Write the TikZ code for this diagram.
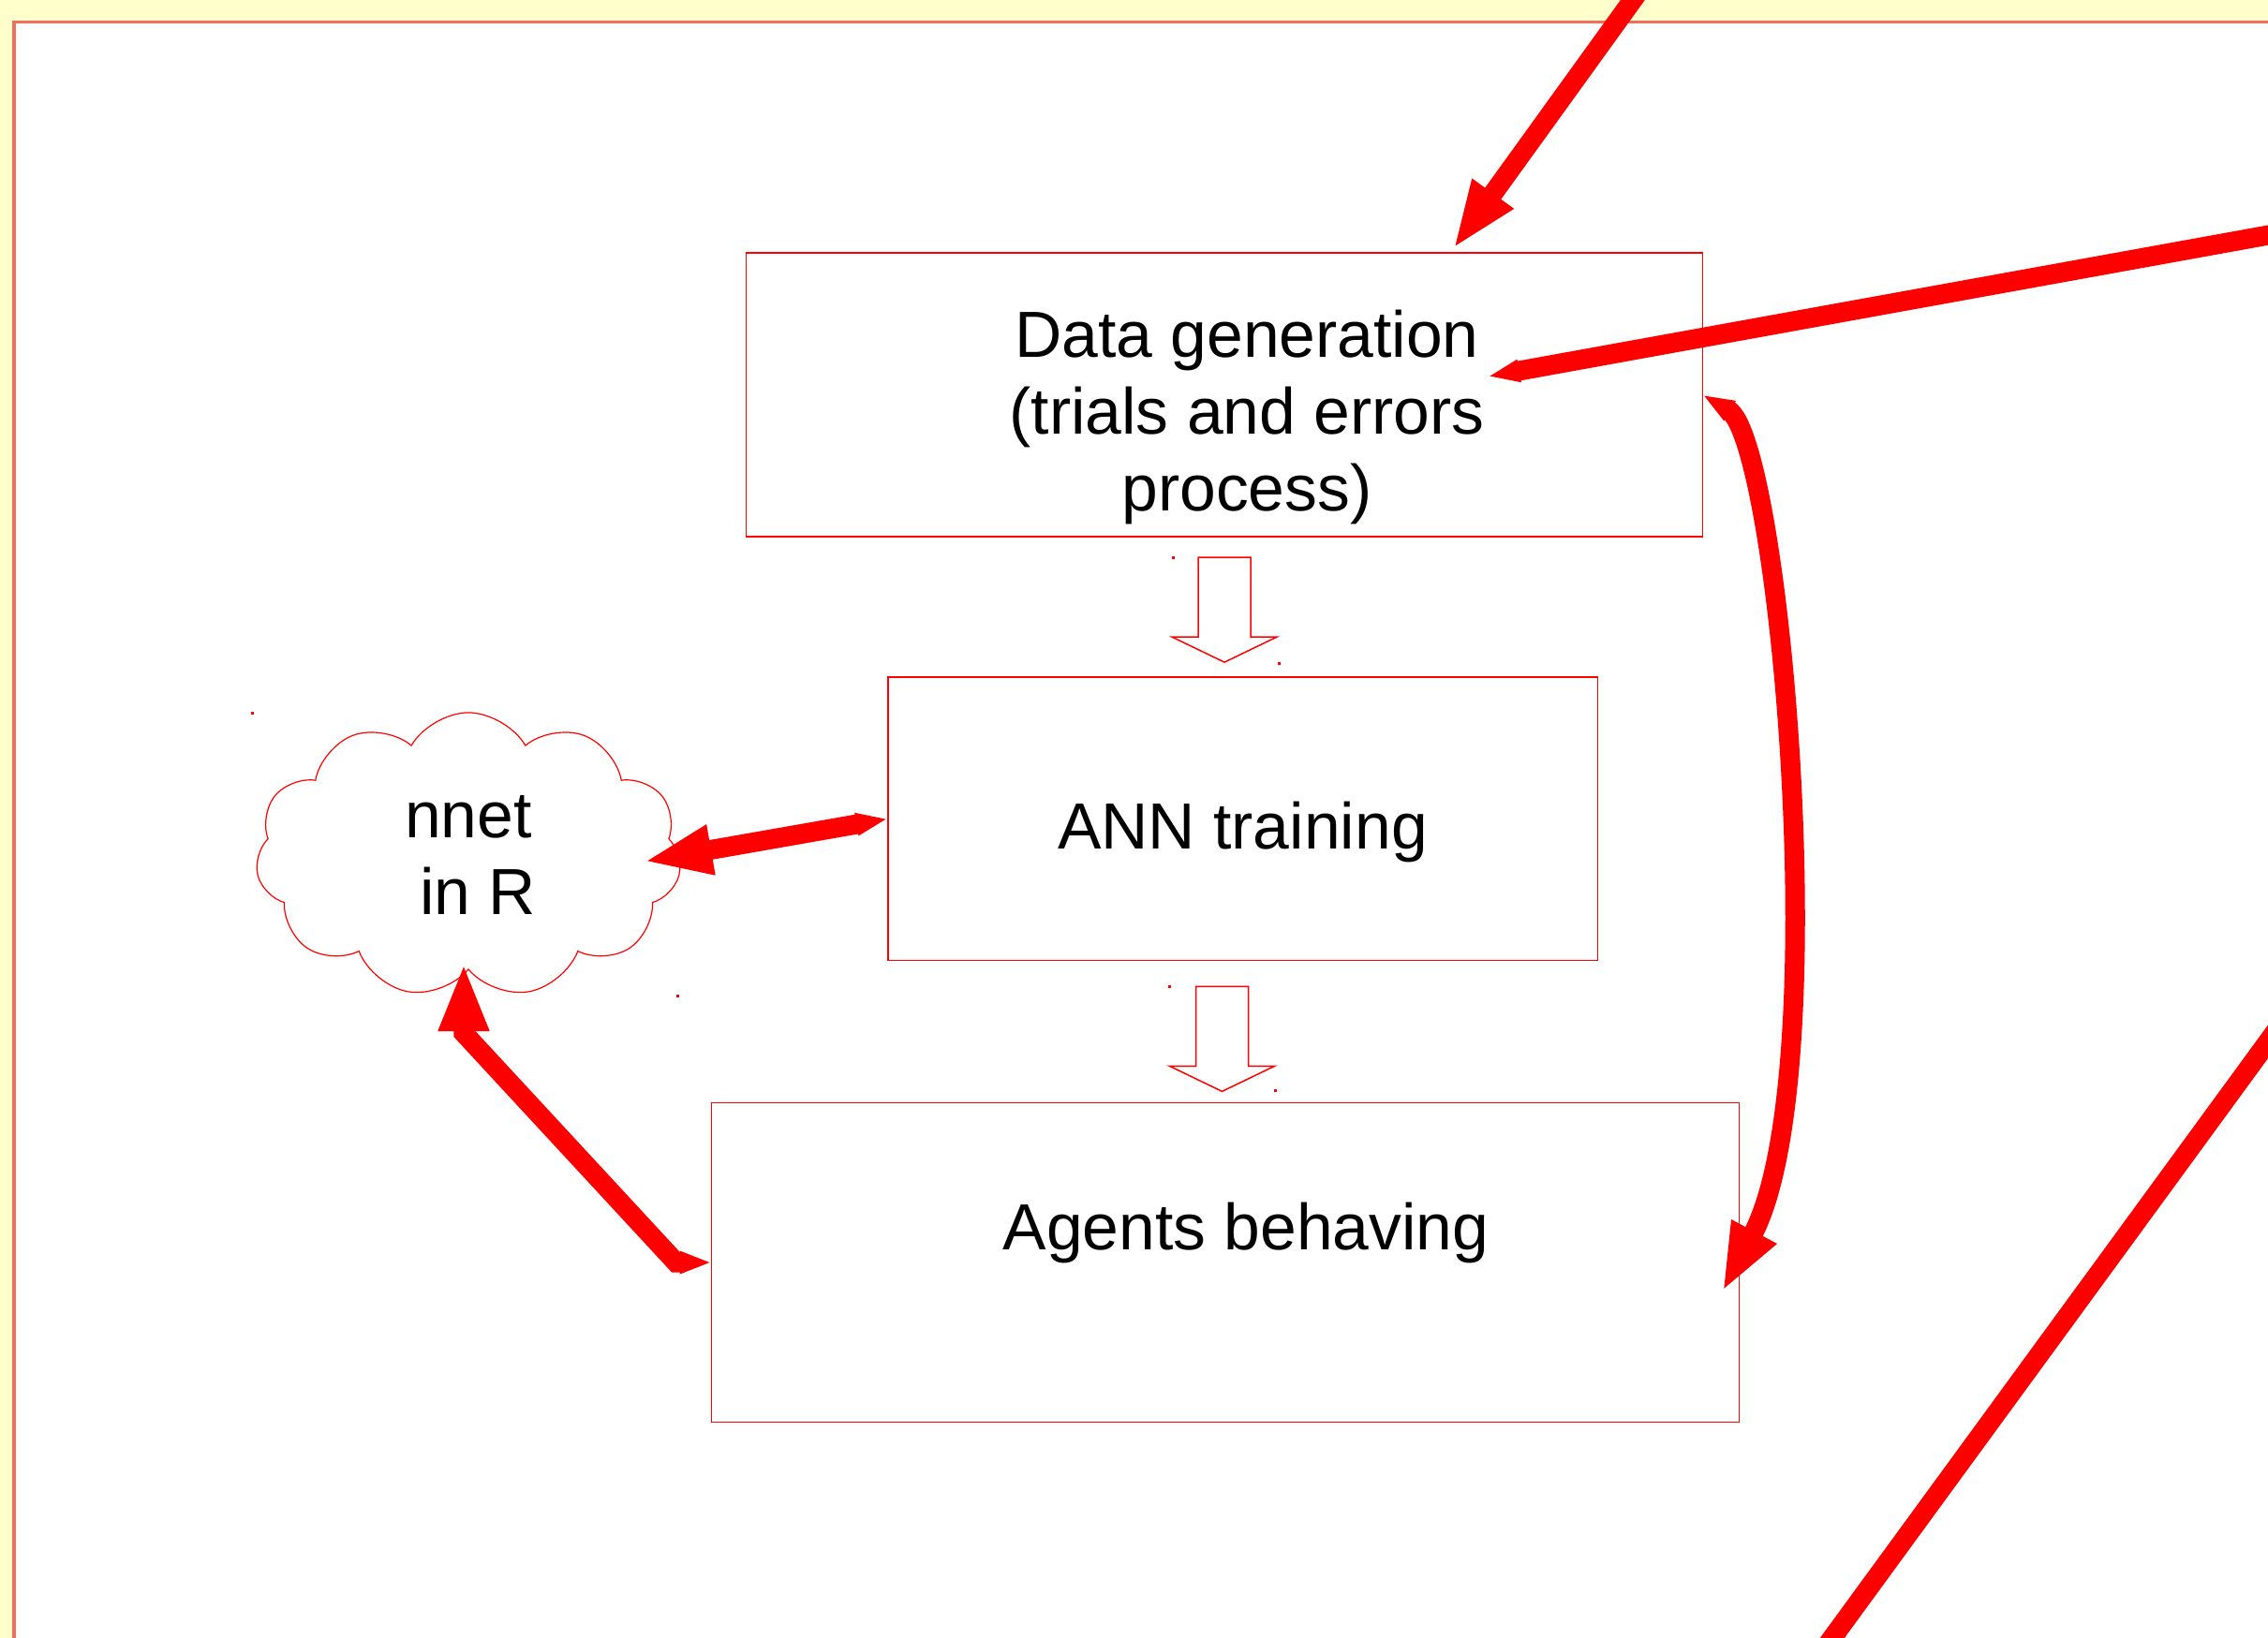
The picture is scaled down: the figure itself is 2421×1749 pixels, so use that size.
\documentclass[tikz,border=0pt]{standalone}
\usepackage{fontspec}
\setmainfont{Liberation Sans}
\usetikzlibrary{arrows.meta, positioning, shapes.symbols}

\definecolor{paper}{RGB}{255,255,204}
\definecolor{frameline}{RGB}{240,110,90}

\tikzset{
    downblock/.pic={
        \draw[hollow] (-28,0) -- (28,0) -- (28,85) -- (56,85) -- (0,112) -- (-56,85) -- (-28,85) -- cycle;
    }
}

\begin{document}
\begin{tikzpicture}[
        x=0.01cm, y=-0.01cm,
        font=\fontsize{19.8}{23.3}\selectfont,
        box/.style={draw=red, line width=0.015cm, inner sep=0pt, outer sep=0pt},
        lbl/.style={align=center, inner sep=0pt},
        hollow/.style={draw=red, line width=0.015cm, fill=white},
        blob/.style={cloud, cloud puffs=11, cloud puff arc=120, aspect=1.5, draw=red, line width=0.012cm,
            minimum width=4.54cm, minimum height=3.04cm, inner sep=0pt, align=center},
        redline/.style={draw=red, line width=0.21cm},
        bighead/.style={-{Triangle[length=0.73cm, width=0.49cm]}},
        smalltip/.style={-{Triangle[length=0.34cm, width=0.22cm]}},
        twotips/.style={{Triangle[length=0.34cm, width=0.22cm]}-{Triangle[length=0.73cm, width=0.49cm]}}
    ]

    % Page: yellow margin, white sheet
    \useasboundingbox (0,0) rectangle (2421,1749);
    \clip (0,0) rectangle (2421,1749);
    \fill[paper] (0,0) rectangle (2421,1749);
    \fill[white] (15,24) rectangle (2421,1749);
    \draw[frameline, line width=0.03cm] (15,1749) -- (15,24) -- (2421,24);

    % Process boxes
    \node[box, minimum width=10.2cm, minimum height=3.03cm] (datagen) at (1307,421.5) {};
    \node[box, minimum width=7.57cm, minimum height=3.02cm, below=1.5cm of datagen, xshift=0.195cm] (ann) {};
    \node[box, minimum width=10.96cm, minimum height=3.41cm, below=1.52cm of ann, xshift=-0.185cm] (agents) {};

    \node[lbl] (datagentext) at ([shift={(24,24)}]datagen.center) {Data generation\\(trials and errors\\process)};
    \node[lbl, anchor=base] (anntext) at ([yshift=-0.32cm]ann.center) {ANN training};
    \node[lbl, anchor=base] (agentstext) at ([shift={(22,-13.5)}]agents.center) {Agents behaving};

    % Hollow arrows between boxes
    \pic at ([yshift=-0.22cm]datagen.south) {downblock};
    \pic at ([shift={(-22,28)}]ann.south) {downblock};

    % Cloud
    \node[blob] (nnet) at (500,913) {nnet\\\hspace*{0.3em}in R};

    % stray corner marks
    \fill[red] (268,760) rectangle ++(3,3);
    \fill[red] (722,1062) rectangle ++(3,3);
    \fill[red] (1251,594) rectangle ++(3,3);
    \fill[red] (1364,707) rectangle ++(3,3);
    \fill[red] (1247,1052) rectangle ++(3,3);
    \fill[red] (1360,1163) rectangle ++(3,3);

    % Arrows
    \coordinate (offtop) at (1815,-100);
    \coordinate (offright) at (2521,233);
    \draw[redline, bighead] (offtop) -- ([shift={(244,-4)}]datagen.north);
    \draw[redline, smalltip] (offright) -- ([shift={(-229,-19.5)}]datagen.east);
    \draw[redline, twotips] (datagen.east) .. controls (1900,470) and (1960,1150) .. ([shift={(-18,31.5)}]agents.east);
    \draw[redline, twotips] (ann.west) -- ([shift={(187,7)}]nnet.center);
    \draw[redline, twotips] (agents.west) -- ++(-38,0) -- ([shift={(-5,190)}]nnet.center) -- ([shift={(-5,115)}]nnet.center);

    % Line running off the sheet
    \draw[redline] (2503,1000) -- (1882,1850);

\end{tikzpicture}
\end{document}
